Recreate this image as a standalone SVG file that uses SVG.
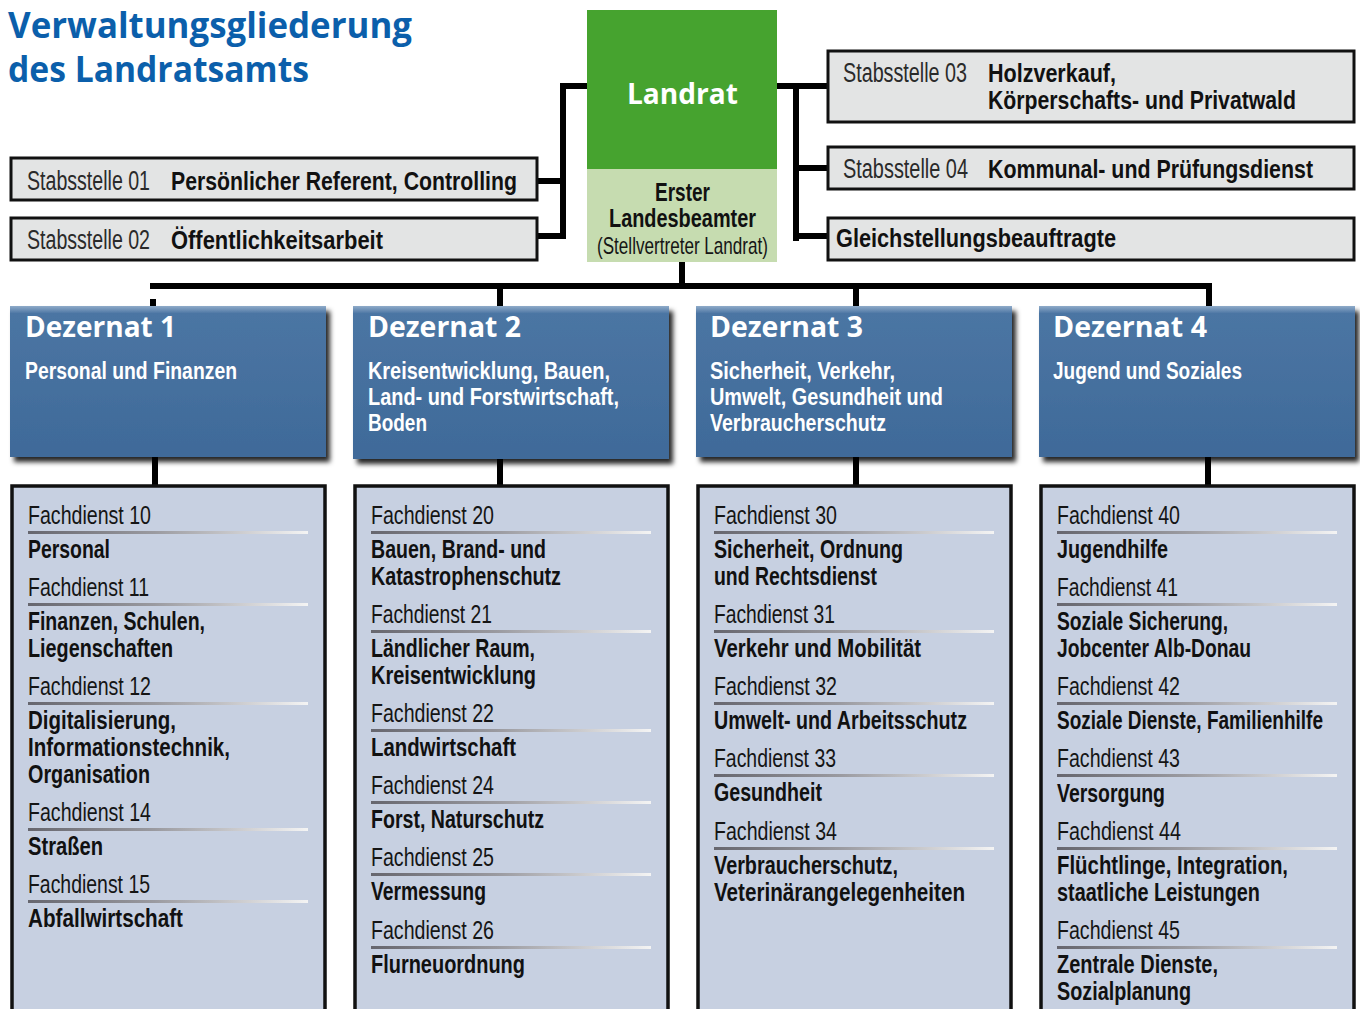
<svg xmlns="http://www.w3.org/2000/svg" width="1360" height="1009" viewBox="0 0 1360 1009">
<defs>
<style>
.lt{font-family:"Liberation Sans Narrow","Liberation Sans",Arial,sans-serif;font-size:26px;fill:#151515}
.sl{font-family:"Liberation Sans Narrow","Liberation Sans",Arial,sans-serif;font-size:27px;fill:#2a2a2a}
.bd{font-family:"Liberation Sans Narrow","Liberation Sans",Arial,sans-serif;font-weight:bold;font-size:25px;fill:#111}
.wb{font-family:"Liberation Sans Narrow","Liberation Sans",Arial,sans-serif;font-weight:bold;font-size:24px;fill:#fff}
.hd{font-family:"Open Sans","Liberation Sans",Arial,sans-serif;font-weight:bold;font-size:29px;fill:#fff}
.ti{font-family:"Open Sans","Liberation Sans",Arial,sans-serif;font-weight:bold;font-size:36px;fill:#0b5fab}
.stab{fill:#e3e4e4;stroke:#111;stroke-width:3}
.fd{fill:#c7d0e1;stroke:#111;stroke-width:3.5}
.dz{fill:url(#dzg);filter:url(#sh)}
.ul{fill:url(#ulg)}
.con{stroke:#000;stroke-width:6;fill:none}
</style>
<linearGradient id="ulg" x1="0" y1="0" x2="1" y2="0">
<stop offset="0" stop-color="#66666e"/>
<stop offset="0.45" stop-color="#9a9aa0"/>
<stop offset="1" stop-color="#f4f4f4"/>
</linearGradient>
<linearGradient id="dzg" x1="0" y1="0" x2="0" y2="1">
<stop offset="0" stop-color="#8fabc9"/>
<stop offset="0.05" stop-color="#4b75a3"/>
<stop offset="1" stop-color="#3f6a99"/>
</linearGradient>
<filter id="sh" x="-5%" y="-5%" width="115%" height="120%">
<feDropShadow dx="4" dy="5" stdDeviation="2.5" flood-color="#000" flood-opacity="0.85"/>
</filter>
</defs>
<rect width="1360" height="1009" fill="#fff"/>

<g id="title">
<text class="ti" x="8" y="38" textLength="404" lengthAdjust="spacingAndGlyphs">Verwaltungsgliederung</text>
<text class="ti" x="8" y="82" textLength="301" lengthAdjust="spacingAndGlyphs">des Landratsamts</text>
</g>

<g id="connectors">
<path class="con" d="M587 86H563V239M538 181H563M538 236H563"/>
<path class="con" d="M777 86H827M796 86V241M796 168H827M796 236H827"/>
<path class="con" d="M682 262V286M150 286H1212M500 286V306M856 286V306M1209 283V306M153 299V306"/>
<path class="con" d="M155 457V486M500 459V486M856 457V486M1208 457V486"/>
</g>

<g id="landrat">
<rect x="587" y="10" width="190" height="159" fill="#46a32f"/>
<rect x="587" y="169" width="190" height="93" fill="#c6dcb0"/>
<text class="hd" x="627" y="104" textLength="111" lengthAdjust="spacingAndGlyphs">Landrat</text>
<text class="bd" x="655" y="201" textLength="55" lengthAdjust="spacingAndGlyphs">Erster</text>
<text class="bd" x="609" y="227" textLength="147" lengthAdjust="spacingAndGlyphs">Landesbeamter</text>
<text class="lt" x="597" y="254" style="font-size:24px" textLength="171" lengthAdjust="spacingAndGlyphs">(Stellvertreter Landrat)</text>
</g>

<g id="stabsstelle01">
<rect class="stab" x="11" y="158" width="526" height="42"/>
<text class="sl" x="27" y="190" textLength="123" lengthAdjust="spacingAndGlyphs">Stabsstelle 01</text>
<text class="bd" x="171" y="190" textLength="346" lengthAdjust="spacingAndGlyphs">Persönlicher Referent, Controlling</text>
</g>
<g id="stabsstelle02">
<rect class="stab" x="11" y="218" width="526" height="42"/>
<text class="sl" x="27" y="249" textLength="123" lengthAdjust="spacingAndGlyphs">Stabsstelle 02</text>
<text class="bd" x="171" y="249" textLength="212" lengthAdjust="spacingAndGlyphs">Öffentlichkeitsarbeit</text>
</g>
<g id="stabsstelle03">
<rect class="stab" x="828" y="51" width="526" height="71"/>
<text class="sl" x="843" y="82" textLength="124" lengthAdjust="spacingAndGlyphs">Stabsstelle 03</text>
<text class="bd" x="988" y="82" textLength="128" lengthAdjust="spacingAndGlyphs">Holzverkauf,</text>
<text class="bd" x="988" y="109" textLength="308" lengthAdjust="spacingAndGlyphs">Körperschafts- und Privatwald</text>
</g>
<g id="stabsstelle04">
<rect class="stab" x="828" y="147" width="526" height="42"/>
<text class="sl" x="843" y="178" textLength="125" lengthAdjust="spacingAndGlyphs">Stabsstelle 04</text>
<text class="bd" x="988" y="178" textLength="325" lengthAdjust="spacingAndGlyphs">Kommunal- und Prüfungsdienst</text>
</g>
<g id="gleichstellung">
<rect class="stab" x="828" y="218" width="526" height="42"/>
<text class="bd" x="836" y="247" textLength="280" lengthAdjust="spacingAndGlyphs">Gleichstellungsbeauftragte</text>
</g>

<g id="dezernat1">
<rect class="dz" x="10" y="306" width="316" height="151"/>
<text class="hd" x="25" y="337" textLength="151" lengthAdjust="spacingAndGlyphs">Dezernat 1</text>
<text class="wb" x="25" y="379" textLength="212" lengthAdjust="spacingAndGlyphs">Personal und Finanzen</text>
</g>
<g id="dezernat2">
<rect class="dz" x="353" y="306" width="316" height="153"/>
<text class="hd" x="368" y="337" textLength="153" lengthAdjust="spacingAndGlyphs">Dezernat 2</text>
<text class="wb" x="368" y="379" textLength="242" lengthAdjust="spacingAndGlyphs">Kreisentwicklung, Bauen,</text>
<text class="wb" x="368" y="405" textLength="251" lengthAdjust="spacingAndGlyphs">Land- und Forstwirtschaft,</text>
<text class="wb" x="368" y="431" textLength="59" lengthAdjust="spacingAndGlyphs">Boden</text>
</g>
<g id="dezernat3">
<rect class="dz" x="696" y="306" width="316" height="151"/>
<text class="hd" x="710" y="337" textLength="153" lengthAdjust="spacingAndGlyphs">Dezernat 3</text>
<text class="wb" x="710" y="379" textLength="185" lengthAdjust="spacingAndGlyphs">Sicherheit, Verkehr,</text>
<text class="wb" x="710" y="405" textLength="233" lengthAdjust="spacingAndGlyphs">Umwelt, Gesundheit und</text>
<text class="wb" x="710" y="431" textLength="176" lengthAdjust="spacingAndGlyphs">Verbraucherschutz</text>
</g>
<g id="dezernat4">
<rect class="dz" x="1039" y="306" width="316" height="151"/>
<text class="hd" x="1053" y="337" textLength="154" lengthAdjust="spacingAndGlyphs">Dezernat 4</text>
<text class="wb" x="1053" y="379" textLength="189" lengthAdjust="spacingAndGlyphs">Jugend und Soziales</text>
</g>

<g id="fachdienste1">
<rect class="fd" x="12" y="486" width="313" height="560"/>
<text class="lt" x="28" y="524" textLength="123" lengthAdjust="spacingAndGlyphs">Fachdienst 10</text>
<rect class="ul" x="28" y="531" width="280" height="3"/>
<text class="bd" x="28" y="558" textLength="82" lengthAdjust="spacingAndGlyphs">Personal</text>
<text class="lt" x="28" y="596" textLength="121" lengthAdjust="spacingAndGlyphs">Fachdienst 11</text>
<rect class="ul" x="28" y="603" width="280" height="3"/>
<text class="bd" x="28" y="630" textLength="177" lengthAdjust="spacingAndGlyphs">Finanzen, Schulen,</text>
<text class="bd" x="28" y="657" textLength="145" lengthAdjust="spacingAndGlyphs">Liegenschaften</text>
<text class="lt" x="28" y="695" textLength="123" lengthAdjust="spacingAndGlyphs">Fachdienst 12</text>
<rect class="ul" x="28" y="702" width="280" height="3"/>
<text class="bd" x="28" y="729" textLength="148" lengthAdjust="spacingAndGlyphs">Digitalisierung,</text>
<text class="bd" x="28" y="756" textLength="202" lengthAdjust="spacingAndGlyphs">Informationstechnik,</text>
<text class="bd" x="28" y="783" textLength="122" lengthAdjust="spacingAndGlyphs">Organisation</text>
<text class="lt" x="28" y="821" textLength="123" lengthAdjust="spacingAndGlyphs">Fachdienst 14</text>
<rect class="ul" x="28" y="828" width="280" height="3"/>
<text class="bd" x="28" y="855" textLength="75" lengthAdjust="spacingAndGlyphs">Straßen</text>
<text class="lt" x="28" y="893" textLength="122" lengthAdjust="spacingAndGlyphs">Fachdienst 15</text>
<rect class="ul" x="28" y="900" width="280" height="3"/>
<text class="bd" x="28" y="927" textLength="155" lengthAdjust="spacingAndGlyphs">Abfallwirtschaft</text>
</g>

<g id="fachdienste2">
<rect class="fd" x="355" y="486" width="313" height="560"/>
<text class="lt" x="371" y="524" textLength="123" lengthAdjust="spacingAndGlyphs">Fachdienst 20</text>
<rect class="ul" x="371" y="531" width="280" height="3"/>
<text class="bd" x="371" y="558" textLength="175" lengthAdjust="spacingAndGlyphs">Bauen, Brand- und</text>
<text class="bd" x="371" y="585" textLength="190" lengthAdjust="spacingAndGlyphs">Katastrophenschutz</text>
<text class="lt" x="371" y="623" textLength="121" lengthAdjust="spacingAndGlyphs">Fachdienst 21</text>
<rect class="ul" x="371" y="630" width="280" height="3"/>
<text class="bd" x="371" y="657" textLength="164" lengthAdjust="spacingAndGlyphs">Ländlicher Raum,</text>
<text class="bd" x="371" y="684" textLength="165" lengthAdjust="spacingAndGlyphs">Kreisentwicklung</text>
<text class="lt" x="371" y="722" textLength="123" lengthAdjust="spacingAndGlyphs">Fachdienst 22</text>
<rect class="ul" x="371" y="729" width="280" height="3"/>
<text class="bd" x="371" y="756" textLength="145" lengthAdjust="spacingAndGlyphs">Landwirtschaft</text>
<text class="lt" x="371" y="794" textLength="123" lengthAdjust="spacingAndGlyphs">Fachdienst 24</text>
<rect class="ul" x="371" y="801" width="280" height="3"/>
<text class="bd" x="371" y="828" textLength="173" lengthAdjust="spacingAndGlyphs">Forst, Naturschutz</text>
<text class="lt" x="371" y="866" textLength="123" lengthAdjust="spacingAndGlyphs">Fachdienst 25</text>
<rect class="ul" x="371" y="873" width="280" height="3"/>
<text class="bd" x="371" y="900" textLength="115" lengthAdjust="spacingAndGlyphs">Vermessung</text>
<text class="lt" x="371" y="939" textLength="123" lengthAdjust="spacingAndGlyphs">Fachdienst 26</text>
<rect class="ul" x="371" y="946" width="280" height="3"/>
<text class="bd" x="371" y="973" textLength="154" lengthAdjust="spacingAndGlyphs">Flurneuordnung</text>
</g>

<g id="fachdienste3">
<rect class="fd" x="698" y="486" width="313" height="560"/>
<text class="lt" x="714" y="524" textLength="123" lengthAdjust="spacingAndGlyphs">Fachdienst 30</text>
<rect class="ul" x="714" y="531" width="280" height="3"/>
<text class="bd" x="714" y="558" textLength="189" lengthAdjust="spacingAndGlyphs">Sicherheit, Ordnung</text>
<text class="bd" x="714" y="585" textLength="163" lengthAdjust="spacingAndGlyphs">und Rechtsdienst</text>
<text class="lt" x="714" y="623" textLength="121" lengthAdjust="spacingAndGlyphs">Fachdienst 31</text>
<rect class="ul" x="714" y="630" width="280" height="3"/>
<text class="bd" x="714" y="657" textLength="207" lengthAdjust="spacingAndGlyphs">Verkehr und Mobilität</text>
<text class="lt" x="714" y="695" textLength="123" lengthAdjust="spacingAndGlyphs">Fachdienst 32</text>
<rect class="ul" x="714" y="702" width="280" height="3"/>
<text class="bd" x="714" y="729" textLength="253" lengthAdjust="spacingAndGlyphs">Umwelt- und Arbeitsschutz</text>
<text class="lt" x="714" y="767" textLength="122" lengthAdjust="spacingAndGlyphs">Fachdienst 33</text>
<rect class="ul" x="714" y="774" width="280" height="3"/>
<text class="bd" x="714" y="801" textLength="108" lengthAdjust="spacingAndGlyphs">Gesundheit</text>
<text class="lt" x="714" y="840" textLength="123" lengthAdjust="spacingAndGlyphs">Fachdienst 34</text>
<rect class="ul" x="714" y="847" width="280" height="3"/>
<text class="bd" x="714" y="874" textLength="184" lengthAdjust="spacingAndGlyphs">Verbraucherschutz,</text>
<text class="bd" x="714" y="901" textLength="251" lengthAdjust="spacingAndGlyphs">Veterinärangelegenheiten</text>
</g>

<g id="fachdienste4">
<rect class="fd" x="1041" y="486" width="313" height="560"/>
<text class="lt" x="1057" y="524" textLength="123" lengthAdjust="spacingAndGlyphs">Fachdienst 40</text>
<rect class="ul" x="1057" y="531" width="280" height="3"/>
<text class="bd" x="1057" y="558" textLength="111" lengthAdjust="spacingAndGlyphs">Jugendhilfe</text>
<text class="lt" x="1057" y="596" textLength="121" lengthAdjust="spacingAndGlyphs">Fachdienst 41</text>
<rect class="ul" x="1057" y="603" width="280" height="3"/>
<text class="bd" x="1057" y="630" textLength="171" lengthAdjust="spacingAndGlyphs">Soziale Sicherung,</text>
<text class="bd" x="1057" y="657" textLength="194" lengthAdjust="spacingAndGlyphs">Jobcenter Alb-Donau</text>
<text class="lt" x="1057" y="695" textLength="123" lengthAdjust="spacingAndGlyphs">Fachdienst 42</text>
<rect class="ul" x="1057" y="702" width="280" height="3"/>
<text class="bd" x="1057" y="729" textLength="266" lengthAdjust="spacingAndGlyphs">Soziale Dienste, Familienhilfe</text>
<text class="lt" x="1057" y="767" textLength="123" lengthAdjust="spacingAndGlyphs">Fachdienst 43</text>
<rect class="ul" x="1057" y="774" width="280" height="3"/>
<text class="bd" x="1057" y="802" textLength="108" lengthAdjust="spacingAndGlyphs">Versorgung</text>
<text class="lt" x="1057" y="840" textLength="124" lengthAdjust="spacingAndGlyphs">Fachdienst 44</text>
<rect class="ul" x="1057" y="847" width="280" height="3"/>
<text class="bd" x="1057" y="874" textLength="231" lengthAdjust="spacingAndGlyphs">Flüchtlinge, Integration,</text>
<text class="bd" x="1057" y="901" textLength="203" lengthAdjust="spacingAndGlyphs">staatliche Leistungen</text>
<text class="lt" x="1057" y="939" textLength="123" lengthAdjust="spacingAndGlyphs">Fachdienst 45</text>
<rect class="ul" x="1057" y="946" width="280" height="3"/>
<text class="bd" x="1057" y="973" textLength="161" lengthAdjust="spacingAndGlyphs">Zentrale Dienste,</text>
<text class="bd" x="1057" y="1000" textLength="134" lengthAdjust="spacingAndGlyphs">Sozialplanung</text>
</g>
</svg>
